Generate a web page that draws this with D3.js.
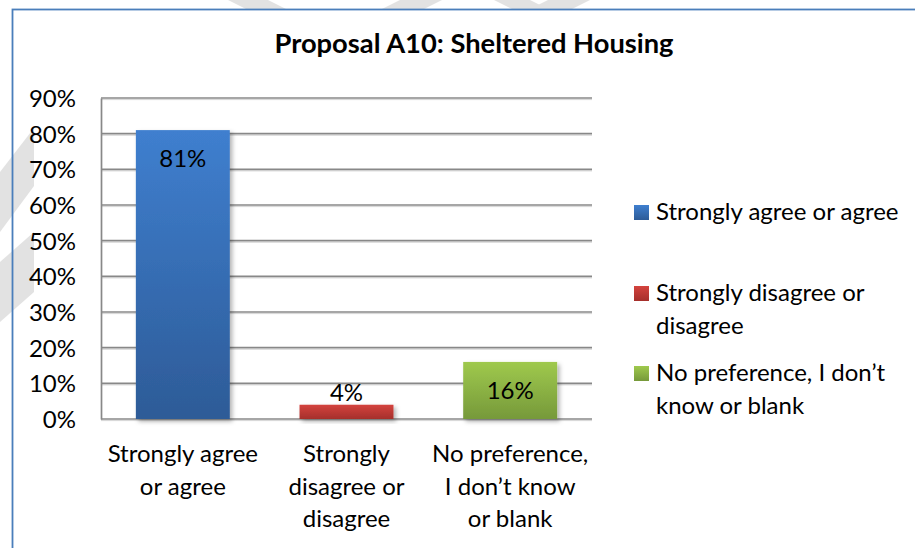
<!DOCTYPE html>
<html>
<head>
<meta charset="utf-8">
<script src="https://cdn.jsdelivr.net/npm/d3@7"></script>
<style>
  html, body { margin: 0; padding: 0; background: #ffffff; }
  svg { display: block; }
  text { font-family: Lato, "Open Sans", sans-serif; fill: #000; }
</style>
</head>
<body>
<svg id="chart" width="915" height="548"></svg>
<script>
// ---- data ----
const chartTitle = "Proposal A10: Sheltered Housing";
const categories = ["Strongly agree or agree", "Strongly disagree or disagree", "No preference, I don’t know or blank"];
const values = [0.81, 0.04, 0.16];
const valueLabels = ["81%", "4%", "16%"];
const categoryLines = [["Strongly agree", "or agree"], ["Strongly", "disagree or", "disagree"], ["No preference,", "I don’t know", "or blank"]];
const legendLines = [["Strongly agree or agree"], ["Strongly disagree or", "disagree"], ["No preference, I don’t", "know or blank"]];
const yTicks = [0, 0.1, 0.2, 0.3, 0.4, 0.5, 0.6, 0.7, 0.8, 0.9];

// ---- styling ----
const barColors = [["#3f7fcf", "#2d5b97"], ["#d4433e", "#a52f2b"], ["#9fc94d", "#76993a"]];
const labelPlacement = ["insideEnd", "outsideEnd", "center"];
const fontSize = "24px";

const svg = d3.select("#chart");
const defs = svg.append("defs");

barColors.forEach((c, i) => {
  const g = defs.append("linearGradient").attr("id", "grad" + i)
    .attr("x1", 0).attr("y1", 0).attr("x2", 0).attr("y2", 1);
  g.append("stop").attr("offset", "0%").attr("stop-color", c[0]);
  g.append("stop").attr("offset", "100%").attr("stop-color", c[1]);
});
const sh = defs.append("filter").attr("id", "shadow")
  .attr("x", "-20%").attr("y", "-20%").attr("width", "150%").attr("height", "150%");
sh.append("feDropShadow").attr("dx", 2.5).attr("dy", 2.5).attr("stdDeviation", 2.2)
  .attr("flood-color", "#000").attr("flood-opacity", 0.3);

// background watermark shapes
const wm = svg.append("g").attr("fill", "#e2e2e2");
const wmShapes = [
  [[228, 0], [268, 0], [286, 9], [246, 9]],
  [[400, 0], [442, 0], [424, 9], [382, 9]],
  [[494, 0], [530, 0], [548, 9], [512, 9]],
  [[548, 0], [590, 0], [572, 9], [530, 9]],
  [[0, 172], [34, 128], [34, 186], [0, 232]],
  [[0, 262], [34, 232], [34, 292], [0, 322]]
];
wm.selectAll("polygon").data(wmShapes).join("polygon")
  .attr("points", d => d.map(p => p.join(",")).join(" "));

// chart frame
svg.append("rect").attr("x", 12.5).attr("y", 9.5).attr("width", 940).attr("height", 560)
  .attr("fill", "none").attr("stroke", "#4a7ebb").attr("stroke-width", 1.8);

// ---- scales ----
const plotLeft = 101, plotRight = 592, plotTop = 98, plotBottom = 419;
const x = d3.scaleBand().domain(categories).range([plotLeft, plotRight])
  .paddingInner(0.426).paddingOuter(0.213);
const y = d3.scaleLinear().domain([0, 0.9]).range([plotBottom, plotTop]);

// title
svg.append("text").attr("x", 474).attr("y", 53).attr("text-anchor", "middle")
  .style("font-weight", "bold").style("font-size", "27.3px").text(chartTitle);

// gridlines
const grid = svg.append("g");
grid.selectAll("line.shade").data(yTicks).join("line").attr("class", "shade")
  .attr("x1", plotLeft).attr("x2", plotRight)
  .attr("y1", d => y(d) + 1.6).attr("y2", d => y(d) + 1.6)
  .attr("stroke", "#d6d6d6").attr("stroke-width", 1);
grid.selectAll("line.main").data(yTicks).join("line").attr("class", "main")
  .attr("x1", plotLeft).attr("x2", plotRight)
  .attr("y1", d => y(d)).attr("y2", d => y(d))
  .attr("stroke", "#888888").attr("stroke-width", 1.7);

// y axis
const yAxis = svg.append("g").attr("transform", `translate(${plotLeft},0)`)
  .call(d3.axisLeft(y).tickValues(yTicks).tickFormat(d3.format(".0%")).tickSize(0).tickPadding(25));
yAxis.select(".domain").attr("stroke", "#888888").attr("stroke-width", 1.7);
yAxis.selectAll("text").style("font-size", fontSize).attr("dy", "0.36em");

// bars
svg.append("g").selectAll("rect").data(values).join("rect")
  .attr("x", (d, i) => x(categories[i]))
  .attr("y", d => y(d))
  .attr("width", x.bandwidth())
  .attr("height", d => plotBottom - y(d))
  .attr("fill", (d, i) => `url(#grad${i})`)
  .attr("filter", "url(#shadow)");

// value labels
svg.append("g").selectAll("text").data(values).join("text")
  .attr("x", (d, i) => x(categories[i]) + x.bandwidth() / 2)
  .attr("y", (d, i) => {
    const p = labelPlacement[i];
    if (p === "insideEnd") return y(d) + 37;
    if (p === "outsideEnd") return y(d) - 4;
    return (y(d) + plotBottom) / 2 + 9;
  })
  .attr("text-anchor", "middle").style("font-size", fontSize)
  .text((d, i) => valueLabels[i]);

// category labels
const catG = svg.append("g").selectAll("text").data(categories).join("text")
  .attr("text-anchor", "middle").style("font-size", fontSize);
catG.each(function (c, i) {
  const t = d3.select(this);
  categoryLines[i].forEach((line, j) => {
    t.append("tspan").attr("x", x(c) + x.bandwidth() / 2).attr("y", 462 + j * 32.5).text(line);
  });
});

// legend
const legendRows = [220, 301, 381];
const leg = svg.append("g");
legendLines.forEach((lines, i) => {
  leg.append("rect").attr("x", 634).attr("y", legendRows[i] - 15).attr("width", 15).attr("height", 15)
    .attr("fill", `url(#grad${i})`);
  const t = leg.append("text").style("font-size", fontSize);
  lines.forEach((line, j) => {
    t.append("tspan").attr("x", 656).attr("y", legendRows[i] + j * 32.5).text(line);
  });
});
</script>
</body>
</html>
